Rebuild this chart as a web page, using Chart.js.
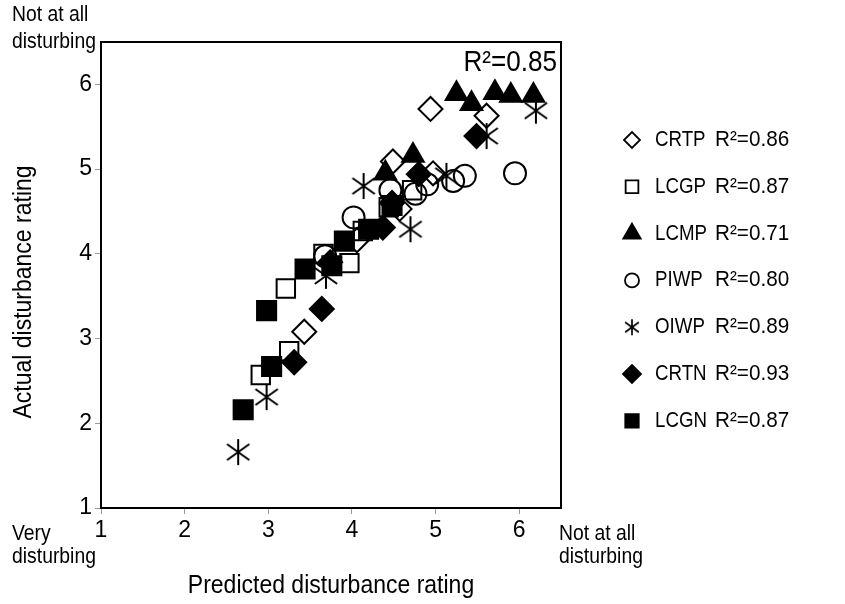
<!DOCTYPE html>
<html>
<head>
<meta charset="utf-8">
<title>Predicted vs actual disturbance rating</title>
<script src="https://cdn.jsdelivr.net/npm/chart.js@4.4.1/dist/chart.umd.min.js"></script>
<style>
  html, body { margin: 0; padding: 0; background: #fff; }
  #wrap { position: relative; width: 845px; height: 604px; }
</style>
</head>
<body>
<div id="wrap"><canvas id="ratingChart" width="845" height="604"></canvas></div>
<script>
// Series names and their fit values
const seriesNames = ["CRTP", "LCGP", "LCMP", "PIWP", "OIWP", "CRTN", "LCGN"];
const seriesR2 = ["0.86", "0.87", "0.71", "0.80", "0.89", "0.93", "0.87"];
const overallR2 = "0.85";
const axisTicks = [1, 2, 3, 4, 5, 6];

// Predicted (x) and actual (y) ratings per series
const crtpPredicted = [3.43, 4.06, 4.49, 4.57, 4.94, 4.97, 5.61];
const crtpActual    = [3.08, 4.16, 5.09, 4.53, 5.71, 4.95, 5.63];

const lcgpPredicted = [2.91, 3.25, 3.21, 3.66, 3.97, 4.13, 4.44, 4.72];
const lcgpActual    = [2.57, 2.85, 3.59, 4.00, 3.89, 4.27, 4.55, 4.75];

const lcmpPredicted = [4.40, 4.73, 5.25, 5.43, 5.71, 5.90, 6.17];
const lcmpActual    = [4.95, 5.16, 5.89, 5.77, 5.90, 5.87, 5.87];

const piwpPredicted = [3.68, 4.02, 4.46, 4.76, 4.90, 5.21, 5.35, 5.95];
const piwpActual    = [3.97, 4.43, 4.75, 4.71, 4.82, 4.86, 4.92, 4.95];

const oiwpPredicted = [2.64, 2.98, 3.69, 4.14, 4.70, 5.13, 5.61, 6.20];
const oiwpActual    = [1.66, 2.31, 3.74, 4.80, 4.29, 4.92, 5.39, 5.69];

const crtnPredicted = [3.31, 3.64, 3.74, 4.37, 4.48, 4.80, 5.49];
const crtnActual    = [2.72, 3.35, 3.90, 4.31, 4.60, 4.94, 5.39];

const lcgnPredicted = [2.70, 2.98, 3.04, 3.44, 3.76, 3.91, 4.20, 4.48];
const lcgnActual    = [2.16, 3.33, 2.67, 3.82, 3.86, 4.15, 4.29, 4.57];

const FONT = '"Liberation Sans", Arial, sans-serif';

// Six-armed asterisk marker (vertical bar plus an X)
function makeAsterisk(size, lw) {
  const c = document.createElement("canvas");
  c.width = size;
  c.height = size;
  const g = c.getContext("2d");
  g.strokeStyle = "#000";
  g.lineWidth = lw;
  const m = size / 2;
  const r = size / 2 - 1;
  g.beginPath();
  g.moveTo(m, m - r);
  g.lineTo(m, m + r);
  const dx = r * 0.86, dy = r * 0.62;
  g.moveTo(m - dx, m - dy);
  g.lineTo(m + dx, m + dy);
  g.moveTo(m + dx, m - dy);
  g.lineTo(m - dx, m + dy);
  g.stroke();
  return c;
}
const asteriskBig = makeAsterisk(28, 2);
const asteriskSmall = makeAsterisk(18, 1.7);

function pairs(xs, ys) {
  return xs.map((x, i) => ({ x: x, y: ys[i] }));
}

const OPEN = "rgba(0,0,0,0)";
const markerStyles = [
  { pointStyle: "rectRot", radius: 12, fill: OPEN, legend: 8 },
  { pointStyle: "rect", radius: 13, fill: OPEN, legend: 9 },
  { pointStyle: "triangle", radius: 12.5, fill: "#000", legend: 10 },
  { pointStyle: "circle", radius: 11, fill: OPEN, legend: 7 },
  { pointStyle: asteriskBig, radius: 14, fill: OPEN, legend: 8, small: asteriskSmall },
  { pointStyle: "rectRot", radius: 12, fill: "#000", legend: 9 },
  { pointStyle: "rect", radius: 13.5, fill: "#000", legend: 9.5 },
];

const seriesData = [
  pairs(crtpPredicted, crtpActual),
  pairs(lcgpPredicted, lcgpActual),
  pairs(lcmpPredicted, lcmpActual),
  pairs(piwpPredicted, piwpActual),
  pairs(oiwpPredicted, oiwpActual),
  pairs(crtnPredicted, crtnActual),
  pairs(lcgnPredicted, lcgnActual),
];

const datasets = seriesNames.map((name, i) => ({
  label: name,
  data: seriesData[i],
  pointStyle: markerStyles[i].pointStyle,
  pointRadius: markerStyles[i].radius,
  pointBackgroundColor: markerStyles[i].fill,
  pointBorderColor: "#000",
  pointBorderWidth: 2,
  showLine: false,
  // filled markers sit on top of the open ones
  order: markerStyles[i].fill === OPEN ? 1 : 0,
}));

// narrow-looking text: squeeze horizontally around the anchor
function squeezedText(ctx, text, x, y, size, align, sx) {
  ctx.save();
  ctx.font = size + "px " + FONT;
  ctx.textAlign = align;
  ctx.translate(x, y);
  ctx.scale(sx, 1);
  ctx.fillText(text, 0, 0);
  ctx.restore();
}

// Frame, axis captions and the legend column
const decorations = {
  id: "decorations",
  afterDraw(chart) {
    const ctx = chart.ctx;
    const a = chart.chartArea;
    ctx.save();
    ctx.strokeStyle = "#000";
    ctx.lineWidth = 2;
    ctx.strokeRect(a.left, a.top, a.right - a.left, a.bottom - a.top);

    ctx.fillStyle = "#000";
    ctx.textBaseline = "middle";

    // end captions
    squeezedText(ctx, "Not at all", 12, 15, 22, "left", 0.88);
    squeezedText(ctx, "disturbing", 12, 42, 22, "left", 0.88);
    squeezedText(ctx, "Very", 12, 534, 22, "left", 0.88);
    squeezedText(ctx, "disturbing", 12, 557, 22, "left", 0.88);
    squeezedText(ctx, "Not at all", a.right - 2, 534, 22, "left", 0.88);
    squeezedText(ctx, "disturbing", a.right - 2, 557, 22, "left", 0.88);

    // overall fit
    squeezedText(ctx, "R\u00B2=" + overallR2, a.right - 4, 63, 29, "right", 0.9);

    // axis titles
    squeezedText(ctx, "Predicted disturbance rating", (a.left + a.right) / 2, 586, 25, "center", 0.92);
    ctx.save();
    ctx.translate(24, 292);
    ctx.rotate(-Math.PI / 2);
    squeezedText(ctx, "Actual disturbance rating", 0, 0, 25, "center", 0.92);
    ctx.restore();

    // legend
    const top = 140, step = 46.8;
    seriesNames.forEach((name, i) => {
      const y = top + i * step;
      const m = markerStyles[i];
      ctx.fillStyle = m.fill;
      ctx.strokeStyle = "#000";
      ctx.lineWidth = 1.8;
      Chart.helpers.drawPoint(ctx, {
        pointStyle: m.small || m.pointStyle,
        radius: m.legend,
        rotation: 0,
        borderWidth: 1.8,
      }, 632, y);
      ctx.fillStyle = "#000";
      squeezedText(ctx, name, 655, y, 22, "left", 0.85);
      squeezedText(ctx, "R\u00B2=" + seriesR2[i], 715, y, 22, "left", 0.94);
    });
    ctx.restore();
  },
};

const tickFont = { family: FONT, size: 23 };

new Chart(document.getElementById("ratingChart"), {
  type: "scatter",
  data: { datasets: datasets },
  options: {
    responsive: false,
    animation: false,
    layout: { padding: { left: 0, top: 42, right: 284, bottom: 0 } },
    plugins: {
      legend: { display: false },
      tooltip: { enabled: false },
    },
    scales: {
      x: {
        type: "linear",
        min: 1,
        max: 6.5,
        afterBuildTicks: (scale) => {
          scale.ticks = axisTicks.map((v) => ({ value: v }));
        },
        afterFit: (scale) => { scale.height = 96; },
        border: { display: false },
        grid: { drawOnChartArea: false, tickLength: 6, color: "#999", tickWidth: 1 },
        ticks: { color: "#000", font: tickFont, padding: 3, maxRotation: 0 },
      },
      y: {
        type: "linear",
        min: 1,
        max: 6.5,
        afterBuildTicks: (scale) => {
          scale.ticks = axisTicks.map((v) => ({ value: v }));
        },
        afterFit: (scale) => { scale.width = 101; },
        border: { display: false },
        grid: { drawOnChartArea: false, tickLength: 6, color: "#999", tickWidth: 1 },
        ticks: { color: "#000", font: tickFont, padding: 3 },
      },
    },
  },
  plugins: [decorations],
});
</script>
</body>
</html>
